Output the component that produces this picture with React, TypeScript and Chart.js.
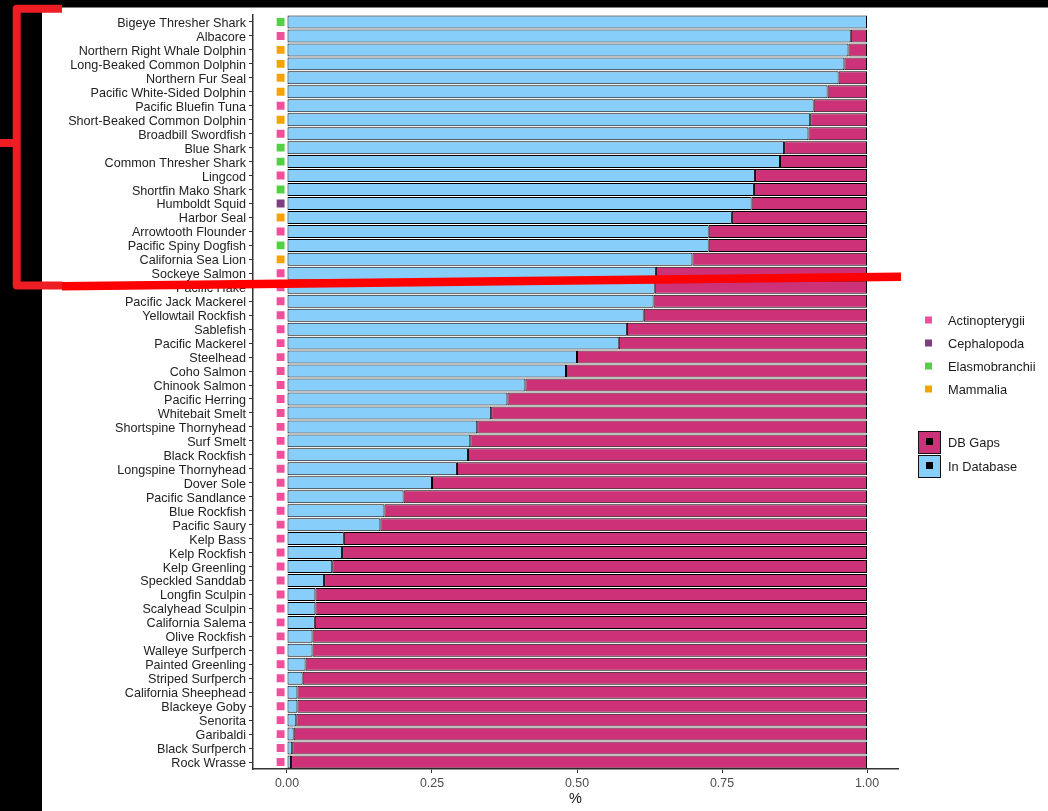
import React, { useEffect, useRef } from 'react';
import { Chart, registerables } from 'chart.js';

Chart.register(...registerables);

const W = 1048;
const H = 811;

const species = [
  'Bigeye Thresher Shark', 'Albacore', 'Northern Right Whale Dolphin', 'Long-Beaked Common Dolphin',
  'Northern Fur Seal', 'Pacific White-Sided Dolphin', 'Pacific Bluefin Tuna', 'Short-Beaked Common Dolphin',
  'Broadbill Swordfish', 'Blue Shark', 'Common Thresher Shark', 'Lingcod', 'Shortfin Mako Shark',
  'Humboldt Squid', 'Harbor Seal', 'Arrowtooth Flounder', 'Pacific Spiny Dogfish', 'California Sea Lion',
  'Sockeye Salmon', 'Pacific Hake', 'Pacific Jack Mackerel', 'Yellowtail Rockfish', 'Sablefish',
  'Pacific Mackerel', 'Steelhead', 'Coho Salmon', 'Chinook Salmon', 'Pacific Herring', 'Whitebait Smelt',
  'Shortspine Thornyhead', 'Surf Smelt', 'Black Rockfish', 'Longspine Thornyhead', 'Dover Sole',
  'Pacific Sandlance', 'Blue Rockfish', 'Pacific Saury', 'Kelp Bass', 'Kelp Rockfish', 'Kelp Greenling',
  'Speckled Sanddab', 'Longfin Sculpin', 'Scalyhead Sculpin', 'California Salema', 'Olive Rockfish',
  'Walleye Surfperch', 'Painted Greenling', 'Striped Surfperch', 'California Sheephead', 'Blackeye Goby',
  'Senorita', 'Garibaldi', 'Black Surfperch', 'Rock Wrasse',
];

const inDatabase = [
  1.0, 0.972, 0.968, 0.961, 0.951, 0.932, 0.908, 0.902,
  0.899, 0.857, 0.850, 0.807, 0.805, 0.801, 0.767, 0.727, 0.727, 0.699,
  0.636, 0.634, 0.632, 0.615, 0.586, 0.572, 0.500, 0.481, 0.411, 0.380, 0.352,
  0.328, 0.316, 0.312, 0.293, 0.250, 0.201, 0.168, 0.161, 0.098, 0.095, 0.078,
  0.064, 0.049, 0.049, 0.048, 0.044, 0.044, 0.032, 0.027, 0.018, 0.018,
  0.016, 0.0115, 0.009, 0.007,
];

const taxClass = [
  'Elasmobranchii', 'Actinopterygii', 'Mammalia', 'Mammalia', 'Mammalia', 'Mammalia', 'Actinopterygii', 'Mammalia',
  'Actinopterygii', 'Elasmobranchii', 'Elasmobranchii', 'Actinopterygii', 'Elasmobranchii', 'Cephalopoda', 'Mammalia',
  'Actinopterygii', 'Elasmobranchii', 'Mammalia',
  'Actinopterygii', 'Actinopterygii', 'Actinopterygii', 'Actinopterygii', 'Actinopterygii', 'Actinopterygii',
  'Actinopterygii', 'Actinopterygii', 'Actinopterygii', 'Actinopterygii', 'Actinopterygii', 'Actinopterygii',
  'Actinopterygii', 'Actinopterygii', 'Actinopterygii', 'Actinopterygii', 'Actinopterygii', 'Actinopterygii',
  'Actinopterygii', 'Actinopterygii', 'Actinopterygii', 'Actinopterygii', 'Actinopterygii', 'Actinopterygii',
  'Actinopterygii', 'Actinopterygii', 'Actinopterygii', 'Actinopterygii', 'Actinopterygii', 'Actinopterygii',
  'Actinopterygii', 'Actinopterygii', 'Actinopterygii', 'Actinopterygii', 'Actinopterygii', 'Actinopterygii',
];

const classNames = ['Actinopterygii', 'Cephalopoda', 'Elasmobranchii', 'Mammalia'];
const classColors = ['#F0509B', '#7F3F7F', '#55CF46', '#F4A300'];
const fillNames = ['DB Gaps', 'In Database'];
const fillColors = ['#CD3278', '#87CEFA'];
const xTicks = [0, 0.25, 0.5, 0.75, 1];
const xTitle = '%';
const markerX = -0.011;

const FONT = '"Liberation Sans", Arial, Helvetica, sans-serif';

const decorPlugin = {
  id: 'decor',
  beforeDraw(chart: any) {
    const ctx = chart.ctx;
    ctx.save();
    ctx.fillStyle = '#ffffff';
    ctx.fillRect(0, 0, W, H);
    ctx.restore();
  },
  afterDraw(chart: any) {
    const ctx = chart.ctx;
    ctx.save();
    ctx.font = `12.8px ${FONT}`;
    ctx.textBaseline = 'middle';
    ctx.textAlign = 'left';
    // class legend
    classNames.forEach((n, i) => {
      const y = 320 + i * 23;
      ctx.fillStyle = classColors[i];
      ctx.fillRect(925, y - 3.5, 7, 7);
      ctx.fillStyle = '#1a1a1a';
      ctx.fillText(n, 948, y + 1.5);
    });
    // fill legend
    fillNames.forEach((n, i) => {
      const top = 431 + i * 24;
      ctx.fillStyle = fillColors[i];
      ctx.fillRect(918.5, top + 0.5, 22, 22);
      ctx.strokeStyle = '#111';
      ctx.lineWidth = 1;
      ctx.strokeRect(918.5, top + 0.5, 22, 22);
      ctx.fillStyle = '#000';
      ctx.fillRect(926, top + 7, 7, 7);
      ctx.fillStyle = '#1a1a1a';
      ctx.fillText(n, 948, top + 12.5);
    });
    // black strips
    ctx.fillStyle = '#000';
    ctx.fillRect(0, 0, 42, H);
    ctx.fillRect(0, 0, W, 7.5);
    // red bracket
    ctx.strokeStyle = '#EE1D23';
    ctx.lineWidth = 8;
    ctx.lineJoin = 'round';
    ctx.lineCap = 'butt';
    ctx.beginPath();
    ctx.moveTo(62, 8.7);
    ctx.lineTo(16.7, 8.7);
    ctx.lineTo(16.7, 285.5);
    ctx.lineTo(62, 285.5);
    ctx.stroke();
    ctx.beginPath();
    ctx.moveTo(0, 143);
    ctx.lineTo(16.7, 143);
    ctx.stroke();
    // red line
    ctx.strokeStyle = '#FF0000';
    ctx.lineWidth = 8.5;
    ctx.beginPath();
    ctx.moveTo(62, 286.3);
    ctx.lineTo(901, 276.8);
    ctx.stroke();
    ctx.restore();
  },
};

export default function App() {
  const ref = useRef<HTMLCanvasElement | null>(null);

  useEffect(() => {
    document.body.style.margin = '0';
    const canvas = ref.current;
    if (!canvas) return;
    Chart.defaults.font.family = FONT;
    const gaps = inDatabase.map((v) => Math.max(0, 1 - v));
    const chart = new Chart(canvas, {
      type: 'bar',
      data: {
        labels: species,
        datasets: [
          {
            type: 'scatter',
            label: 'Class',
            data: species.map((s) => ({ x: markerX, y: s })),
            pointStyle: 'rect',
            pointRadius: 5.6,
            pointBorderWidth: 0,
            pointBackgroundColor: taxClass.map((c) => classColors[classNames.indexOf(c)]),
            borderWidth: 0,
            stack: 'markers',
          } as any,
          {
            label: 'In Database',
            data: inDatabase,
            backgroundColor: fillColors[1],
            borderColor: '#000',
            borderWidth: 1,
            borderSkipped: false,
            stack: 'a',
            barPercentage: 0.93,
            categoryPercentage: 1,
          },
          {
            label: 'DB Gaps',
            data: gaps,
            backgroundColor: fillColors[0],
            borderColor: '#000',
            borderWidth: 1,
            borderSkipped: false,
            stack: 'a',
            barPercentage: 0.93,
            categoryPercentage: 1,
          },
        ],
      },
      options: {
        indexAxis: 'y',
        responsive: false,
        animation: false,
        events: [],
        layout: { padding: { top: 15, right: 150, left: 0, bottom: 0 } },
        plugins: {
          legend: { display: false },
          tooltip: { enabled: false },
        },
        scales: {
          x: {
            type: 'linear',
            stacked: true,
            min: -0.0586,
            max: 1.0534,
            afterBuildTicks: (scale: any) => {
              scale.ticks = xTicks.map((v) => ({ value: v }));
            },
            afterFit: (scale: any) => {
              scale.height = 42;
            },
            grid: {
              display: true,
              drawOnChartArea: false,
              drawTicks: true,
              tickLength: 4,
              color: '#333',
              lineWidth: 1,
            },
            border: { display: true, color: '#333', width: 1.5 },
            ticks: {
              autoSkip: false,
              maxRotation: 0,
              padding: 3,
              color: '#4d4d4d',
              font: { size: 12.4 },
              callback: (v: any) => Number(v).toFixed(2),
            },
            title: {
              display: true,
              text: xTitle,
              color: '#111',
              font: { size: 14.5 },
              padding: { top: 0, bottom: 3 },
            },
          },
          y: {
            type: 'category',
            stacked: true,
            offset: true,
            afterFit: (scale: any) => {
              scale.width = 253;
            },
            grid: {
              display: true,
              drawOnChartArea: false,
              drawTicks: true,
              tickLength: 4,
              color: '#333',
              lineWidth: 1,
              offset: false,
            },
            border: { display: true, color: '#333', width: 1.5 },
            ticks: {
              autoSkip: false,
              padding: 3,
              labelOffset: 1.5,
              color: '#222',
              font: { size: 12.6 },
            },
          },
        },
      },
      plugins: [decorPlugin],
    } as any);
    return () => chart.destroy();
  }, []);

  return (
    <div style={{ width: W, height: H }}>
      <canvas ref={ref} width={W} height={H} style={{ display: 'block', width: W, height: H }} />
    </div>
  );
}
